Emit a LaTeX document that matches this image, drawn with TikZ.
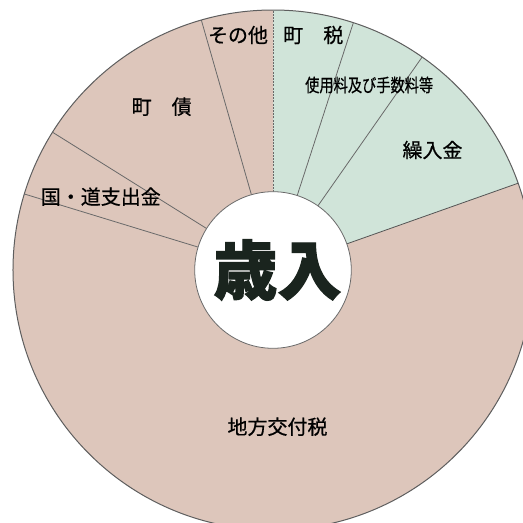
\documentclass[tikz,border=0pt]{standalone}
\usepackage{fontspec}
\newfontfamily\cjk{Noto Sans CJK JP}[FakeBold=0.6]
\newfontfamily\cjkheavy{Noto Sans CJK JP}[BoldFeatures={FakeBold=1.8}]
\usetikzlibrary{calc}
\definecolor{piepink}{RGB}{221,198,187}
\definecolor{piegreen}{RGB}{208,228,217}
\definecolor{pieline}{RGB}{105,105,105}
\definecolor{titleink}{RGB}{26,36,30}
\tikzset{
  sep/.style={draw=pieline, line width=0.8pt},
  rim/.style={draw=pieline!90!black, line width=1pt},
  lab/.style={font=\cjk\fontsize{20}{20}\selectfont, inner sep=0pt, text=black},
  smalllab/.style={font=\cjk\fontsize{18}{18}\selectfont, xscale=0.79},
  titlelab/.style={font=\cjkheavy\bfseries\fontsize{64}{64}\selectfont, inner sep=0pt, text=titleink},
}
\begin{document}
\begin{tikzpicture}[x=1pt,y=1pt]
\useasboundingbox (-273,-253) rectangle (250,270);
\fill[white] (-273,-253) rectangle (250,270);
\clip (-273,-253) rectangle (250,270);
\coordinate (O) at (0,0);
% wedges
\fill[piepink] (O) -- (163:260) arc[start angle=163, end angle=379.5, radius=260] -- cycle;
\fill[piegreen] (O) -- (19.5:260) arc[start angle=19.5, end angle=90, radius=260] -- cycle;
\fill[piepink] (O) -- (90:260) arc[start angle=90, end angle=163, radius=260] -- cycle;
% separators
\foreach \a in {55,72,106,148,163} {\draw[sep] (\a:78) -- (\a:260);}
\draw[sep, dash pattern=on 2pt off 1.2pt] (90:78) -- (90:260);
\draw[sep, draw=pieline!80!black] (19.5:78) -- (19.5:260);
\draw[rim] (O) circle[radius=260];
\node[circle, fill=white, draw=pieline, line width=0.8pt, minimum size=156.6pt, inner sep=0pt] (hub) at (O) {};
% labels
\node[lab] (sonota) at (-35,235) {その他};
\node[lab] (choze) at (40.3,235) {町　税};
\node[lab,smalllab] (shiyo) at (96.2,185) {使用料及び手数料等};
\node[lab] (kuri) at (159.5,120) {繰入金};
\node[lab] (chosai) at (-111.3,163.3) {町　債};
\node[lab] (kokudo) at (-172.2,73.3) {国・道支出金};
\node[lab] (chiho) at (4.5,-156.7) {地方交付税};
\node[titlelab] (sainyu) at (4.5,0) {歳入};
\end{tikzpicture}
\end{document}
